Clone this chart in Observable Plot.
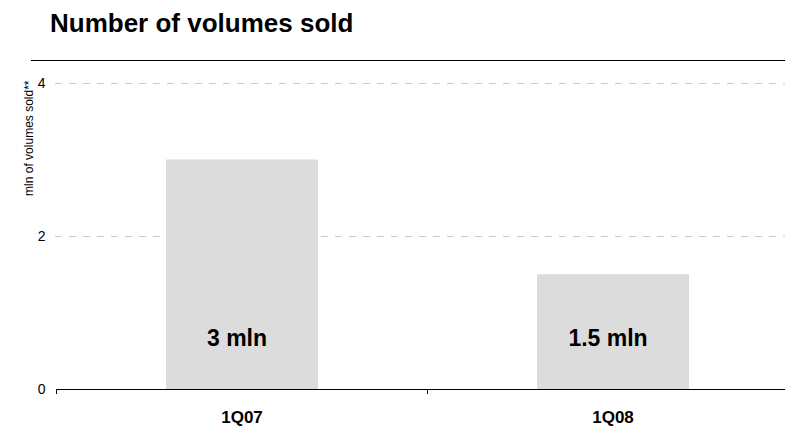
<!DOCTYPE html>
<html>
<head>
<meta charset="utf-8">
<script src="https://cdn.jsdelivr.net/npm/d3@7"></script>
<script src="https://cdn.jsdelivr.net/npm/@observablehq/plot@0.6"></script>
<style>
  body { margin: 0; background: #fff; }
  #wrap { position: relative; width: 785px; height: 427px; font-family: "Liberation Sans", Arial, sans-serif; }
  #wrap svg { position: absolute; left: 0; top: 0; }
  #title { position: absolute; left: 50px; top: 10px; z-index: 1; font-size: 26px; line-height: 26px; font-weight: bold; color: #000; white-space: nowrap; }
</style>
</head>
<body>
<div id="wrap">
  <div id="title">Number of volumes sold</div>
</div>
<script>
// Quarterly sales, millions of volumes
const quarters = ["1Q07", "1Q08"];
const volumes = [3, 1.5];
const yTicks = [0, 2, 4];
const yLabel = "mln of volumes sold**";

const data = quarters.map((q, i) => ({quarter: q, value: volumes[i]}));
const bandwidth = (798 - 56) / quarters.length;

const chart = Plot.plot({
  width: 785,
  height: 427,
  marginTop: 60,
  marginBottom: 38,
  marginLeft: 31,
  marginRight: 0,
  style: {fontFamily: "Liberation Sans, Arial, sans-serif", background: "#fff", color: "#000"},
  x: {type: "band", domain: quarters, range: [56, 798], padding: 0},
  y: {domain: [0, 4.3]},
  marks: [
    // dashed gridlines
    Plot.ruleY(yTicks.filter(d => d > 0), {stroke: "#c8c8c8", strokeDasharray: "7,7", insetLeft: 24}),
    // top border
    Plot.ruleY([4.3], {stroke: "#000", strokeWidth: 1}),
    Plot.barY(data, {x: "quarter", y: "value", fill: "#dcdcdc", insetLeft: 110, insetRight: 109}),
    Plot.text(data, {x: "quarter", y: 0, text: d => `${d.value} mln`, dy: -51, dx: -5,
      fontSize: 23, fontWeight: "bold", fill: "#000", lineAnchor: "middle"}),
    // baseline
    Plot.ruleY([0], {stroke: "#000", strokeWidth: 1, insetLeft: 25}),
    // tick marks on category boundaries
    Plot.axisX({tickSize: 5, tickFormat: null, dx: -bandwidth / 2, stroke: "#000", label: null}),
    Plot.axisX({tickSize: 0, tickPadding: 21, fontSize: 17, fontWeight: "bold", label: null}),
    Plot.axisY({ticks: yTicks, tickSize: 0, tickPadding: 0, dx: 14, fontSize: 14, label: null, tickFormat: d => String(d)}),
    Plot.text([yLabel], {frameAnchor: "top-left", rotate: -90, textAnchor: "end",
      dx: -7, dy: 20, fontSize: 12, fill: "#000"})
  ]
});

document.getElementById("wrap").insertBefore(chart, document.getElementById("title"));
</script>
</body>
</html>
